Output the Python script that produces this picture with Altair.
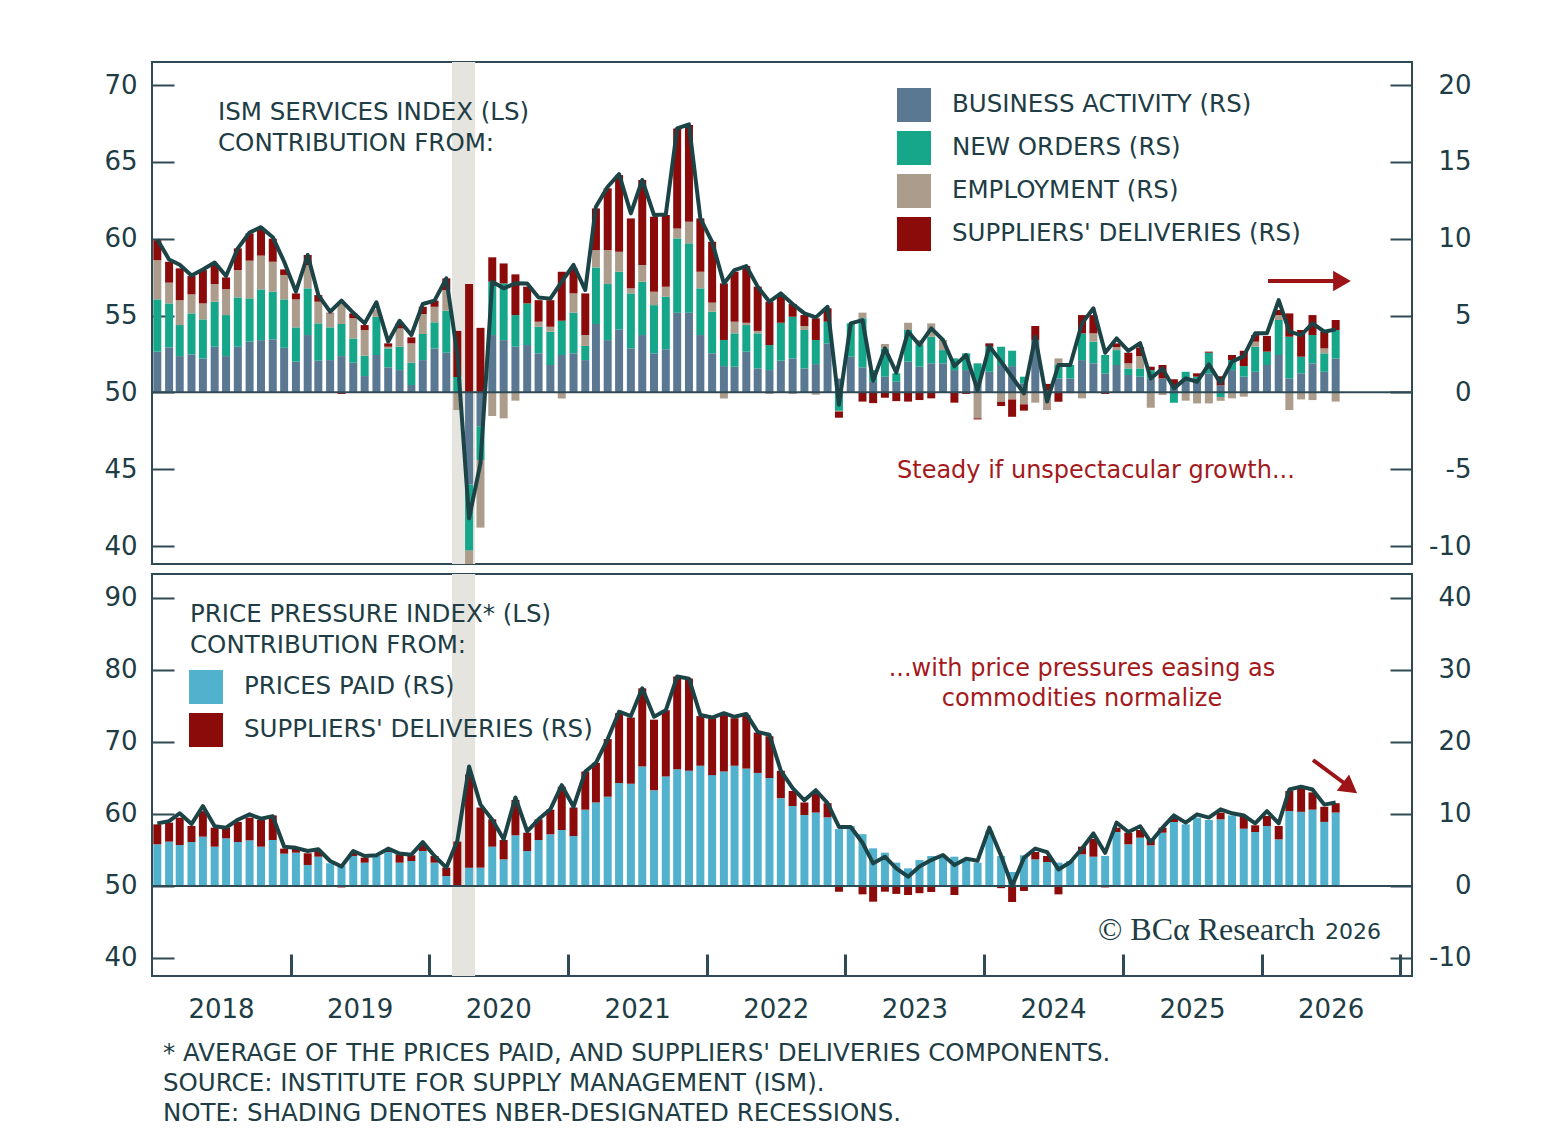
import altair as alt
import pandas as pd

# ---------------- data ----------------
N_MONTHS = 103  # Jan 2018 .. Jul 2026
FIRST_MONTH = "2018-01-01"

business_activity = [
    2.65, 2.93, 2.36, 2.47, 2.2, 2.97, 2.36, 2.97, 3.3, 3.4,
    3.45, 2.9, 2.0, 3.73, 2.06, 2.1, 2.36, 1.93, 1.06, 2.43,
    1.63, 1.45, 0.48, 2.1, 2.86, 2.58, 0.0, -6.0, -2.2, 3.73,
    3.4, 2.97, 3.08, 2.54, 1.78, 2.43, 2.54, 2.1, 4.45, 3.4,
    4.1, 2.86, 3.73, 2.54, 2.8, 5.18, 5.18, 3.73, 2.54, 1.71,
    1.67, 2.65, 1.56, 1.45, 2.06, 2.21, 1.56, 1.84, 3.19, 0.9,
    2.32, 1.63, 0.69, 1.02, 0.69, 2.0, 1.67, 1.89, 1.89, 1.45,
    1.45, 0.8, 1.34, 1.78, 1.71, 0.59, 3.4, 0.1, 0.91, 0.91,
    2.1, 1.89, 1.24, 1.78, 1.13, 1.02, 0.91, 0.91, 0.48, 0.91,
    0.69, 1.24, 0.45, 1.45, 1.02, 1.34, 1.78, 2.43, 0.91, 1.24,
    1.89, 1.34, 2.21]
new_orders = [
    3.4, 2.86, 2.02, 2.67, 2.55, 2.93, 2.67, 3.21, 2.82, 3.3,
    3.1, 3.15, 2.23, 3.04, 2.43, 2.13, 2.09, 1.58, 1.33, 2.49,
    1.23, 1.52, 1.45, 1.7, 1.7, 2.73, 1.0, -4.3, -2.2, 3.47,
    3.69, 2.06, 2.71, 1.73, 2.17, 2.23, 2.64, 0.92, 3.68, 3.65,
    3.75, 3.58, 3.47, 3.14, 3.43, 4.84, 4.52, 3.04, 2.71, 1.7,
    2.17, 1.73, 2.28, 1.63, 2.47, 2.71, 2.5, 1.57, 1.41, -1.2,
    2.17, 3.19, 0.76, 1.84, 0.55, 2.06, 1.41, 1.73, 0.86, 0.76,
    1.09, 1.09, 1.63, 1.19, 1.0, 0.43, 0.0, 0.0, 0.87, 0.87,
    1.74, 1.41, 1.19, 0.97, 0.43, 0.54, 0.54, 0.0, -0.67, 0.43,
    0.33, 1.34, -0.3, 0.65, 0.69, 1.63, 0.87, 2.28, 2.71, 1.08,
    1.84, 1.2, 1.85]
employment = [
    2.55, 1.35, 1.62, 1.24, 1.04, 1.15, 1.69, 1.78, 2.45, 2.2,
    1.95, 1.59, 1.82, 1.52, 1.41, 0.91, 1.39, 1.31, 1.67, 0.48,
    0.11, 1.19, 1.26, 1.3, 1.01, 1.35, -1.15, -5.0, -4.4, -1.54,
    -1.69, -0.54, 0.0, 0.33, 0.32, -0.4, 1.26, 0.71, 1.13, 2.21,
    1.3, 0.33, 1.09, 0.87, 0.65, 0.65, 1.4, 1.08, 0.59, -0.4,
    0.76, 0.15, 0.16, -0.1, 0.0, -0.1, 0.26, -0.15, 0.0, -0.05,
    0.0, 0.37, 0.0, 0.29, 0.0, 0.47, 0.33, 0.87, 0.66, 0.0,
    0.0, -1.69, 0.0, -0.61, -0.46, -0.78, -0.67, -1.15, 0.43, 0.0,
    -0.39, 0.54, 0.0, 0.2, 0.33, 0.8, -1.0, -0.17, 0.0, -0.54,
    -0.72, -0.72, -0.25, -0.39, -0.28, 0.33, 0.0, 0.32, -1.15, -0.46,
    -0.5, 0.32, -0.6]
suppliers_services = [
    1.3, 1.36, 2.07, 1.19, 2.17, 1.24, 0.76, 1.41, 1.78, 1.7,
    1.5, 0.36, 0.39, 0.65, 0.43, 0.04, -0.1, 0.32, 0.32, 0.0,
    0.22, 0.33, 0.39, 0.47, 0.4, 0.76, 3.0, 7.05, 4.2, 1.59,
    1.3, 2.65, 1.09, 1.4, 1.73, 3.19, 1.63, 2.71, 2.71, 4.02,
    4.99, 4.55, 5.53, 4.88, 4.66, 6.51, 6.3, 3.47, 3.96, 3.68,
    3.25, 3.69, 2.88, 2.82, 1.8, 0.83, 0.71, 1.41, 0.87, -0.4,
    0.0, -0.6, -0.7, -0.35, -0.57, -0.6, -0.5, -0.39, 0.0, -0.67,
    -0.1, -0.07, 0.22, -0.28, -1.13, -0.41, 0.92, 0.45, -0.61, -0.05,
    1.19, 1.19, -0.1, 0.24, 0.69, 0.57, 0.22, 0.87, 0.37, 0.0,
    0.22, 0.07, 0.6, 0.33, 1.0, 0.43, 1.02, 0.33, 1.52, 1.74,
    1.3, 1.09, 0.65]
ism_services_index = [
    59.95, 58.65, 58.3, 57.6, 58.0, 58.45, 57.57, 59.37, 60.4, 60.75,
    60.1, 58.5, 56.55, 58.94, 56.33, 55.25, 55.97, 55.18, 54.49, 55.86,
    53.3, 54.66, 53.73, 55.75, 55.97, 57.42, 52.5, 41.8, 45.4, 57.2,
    56.77, 57.1, 57.09, 56.18, 56.1, 57.2, 58.29, 56.66, 62.08, 63.38,
    64.2, 61.65, 63.82, 61.54, 61.58, 67.18, 67.44, 61.32, 59.8, 57.09,
    57.96, 58.22, 56.88, 55.9, 56.44, 55.75, 55.14, 54.88, 55.57, 49.2,
    54.49, 54.7, 50.76, 52.86, 51.28, 53.95, 53.08, 54.16, 53.41, 51.71,
    52.43, 50.15, 53.0, 52.0, 51.0, 49.93, 53.62, 49.4, 51.78, 51.78,
    54.49, 55.47, 52.58, 53.51, 52.7, 53.2, 50.9, 51.56, 50.26, 50.91,
    50.69, 51.82, 50.6, 52.0, 52.36, 53.84, 53.84, 56.0, 53.95, 53.73,
    54.49, 53.95, 54.1]

prices_paid = [
    5.79, 6.16, 5.69, 6.11, 6.85, 5.46, 6.62, 6.11, 6.34, 5.46,
    6.39, 4.49, 4.63, 2.92, 4.07, 3.15, 2.78, 4.17, 3.24, 4.17,
    4.72, 3.24, 3.47, 4.86, 3.24, 1.39, 0.1, 2.55, 2.55, 5.46,
    3.7, 7.04, 4.86, 6.39, 7.18, 7.78, 6.94, 10.6, 11.6, 12.4,
    14.3, 14.2, 16.6, 13.3, 15.2, 16.2, 16.0, 16.7, 15.4, 15.9,
    16.7, 16.3, 15.7, 15.0, 12.2, 11.1, 9.86, 10.2, 9.54, 7.9,
    8.33, 7.2, 5.23, 4.63, 3.24, 2.45, 3.6, 4.17, 4.17, 4.07,
    3.6, 3.24, 7.64, 4.17, 1.94, 4.26, 3.7, 3.33, 3.24, 3.47,
    4.4, 4.07, 4.17, 7.5, 5.79, 6.71, 5.65, 7.4, 8.9, 8.56,
    9.49, 9.17, 9.26, 9.8, 7.96, 7.5, 8.33, 6.48, 10.4, 10.3,
    10.6, 8.9, 10.2]
suppliers_prices = [
    2.77, 2.64, 3.8, 2.22, 3.55, 2.64, 1.48, 2.79, 3.15, 3.71,
    3.41, 0.7, 0.56, 1.62, 0.79, 0.0, -0.2, 0.46, 0.7, 0.0,
    0.3, 1.16, 0.79, 0.93, 0.93, 1.16, 6.06, 12.95, 8.35, 3.8,
    2.69, 4.9, 2.54, 2.87, 3.42, 6.0, 3.96, 5.3, 5.5, 8.0,
    9.7, 9.2, 10.85, 9.8, 9.2, 12.9, 12.8, 6.9, 7.9, 7.85,
    6.6, 7.45, 5.6, 5.8, 3.8, 2.1, 1.74, 2.9, 1.96, -0.8,
    0.0, -1.16, -2.18, -0.79, -1.1, -1.25, -1.0, -0.83, 0.0, -1.25,
    0.0, -0.1, 0.0, -0.3, -2.22, -0.69, 1.02, 0.84, -1.16, -0.05,
    1.06, 2.5, -0.2, 0.6, 1.61, 1.07, 0.74, 0.7, 0.73, 0.0,
    0.0, 0.0, 0.94, 0.0, 1.67, 0.93, 1.39, 1.85, 2.8, 3.4,
    2.4, 2.1, 1.3]
price_pressure_index = [
    58.7, 59.0, 60.1, 58.6, 61.1, 58.3, 58.1, 59.2, 59.95, 59.35,
    59.7, 55.46, 55.3, 54.86, 55.1, 53.47, 52.7, 54.86, 54.17, 54.26,
    55.19, 54.5, 54.35, 56.1, 54.17, 52.55, 56.25, 66.6, 61.3, 59.2,
    56.5, 62.3, 57.6, 59.26, 60.65, 64.0, 61.0, 65.9, 67.1, 70.4,
    74.2, 73.6, 77.45, 73.5, 74.4, 79.1, 78.8, 73.75, 73.4, 74.0,
    73.5, 73.9, 71.4, 71.0, 66.0, 63.6, 61.9, 63.3, 61.5, 58.2,
    58.2, 56.0, 53.15, 54.07, 52.45, 51.3, 52.7, 53.6, 54.3, 52.9,
    53.8, 53.5, 58.1, 54.2, 50.0, 53.9, 55.2, 54.7, 52.3, 53.3,
    55.2, 57.3, 54.6, 58.8, 57.5, 58.3, 56.1, 58.1, 59.8, 58.8,
    59.95, 59.5, 60.65, 60.1, 59.8, 58.7, 60.4, 58.7, 63.4, 63.8,
    63.4, 61.3, 61.6]

recession_start = ["2020-03-01"]
recession_end = ["2020-05-01"]

TOP_COMPONENTS = ["BUSINESS ACTIVITY (RS)", "NEW ORDERS (RS)",
                  "EMPLOYMENT (RS)", "SUPPLIERS' DELIVERIES (RS)"]
BOTTOM_COMPONENTS = ["PRICES PAID (RS)", "SUPPLIERS' DELIVERIES (RS)"]
YEAR_TICKS = list(range(2018, 2028))

# ---------------- styling ----------------
FONT = "DejaVu Sans"
TXT = "#203c44"
RED_TXT = "#a3191c"
FRAME = "#2f4a54"
LINE = "#1c4346"
TOP_COLORS = ["#5b7893", "#16a689", "#ab9c8c", "#8b0b0b"]
BOTTOM_COLORS = ["#52b1cd", "#8b0b0b"]
W, H1, H2 = 1260, 502, 402

# ---------------- tables ----------------
dates = (pd.date_range(FIRST_MONTH, periods=N_MONTHS, freq="MS")
         + pd.Timedelta(days=14)).strftime("%Y-%m-%d")

top_rows = []
for k, (name, series) in enumerate(zip(TOP_COMPONENTS, [business_activity, new_orders,
                                                        employment, suppliers_services])):
    for d, v in zip(dates, series):
        top_rows.append({"date": d, "component": name, "k": k, "value": v})
top_df = pd.DataFrame(top_rows)
top_line_df = pd.DataFrame({"date": dates, "index": ism_services_index})

bot_rows = []
for k, (name, series) in enumerate(zip(BOTTOM_COMPONENTS, [prices_paid, suppliers_prices])):
    for d, v in zip(dates, series):
        bot_rows.append({"date": d, "component": name, "k": k, "value": v})
bot_df = pd.DataFrame(bot_rows)
bot_line_df = pd.DataFrame({"date": dates, "index": price_pressure_index})

rec_df = pd.DataFrame({"start": recession_start, "end": recession_end})
ONE = pd.DataFrame({"n": [0]})

x_scale = alt.Scale(domain=[alt.DateTime(year=2018, month=1, date=1),
                            alt.DateTime(year=2027, month=2, date=1)], padding=0)


def side_axis(orient, values):
    common = dict(orient=orient, values=values, offset=-22, tickSize=22, tickWidth=2,
                  tickColor=FRAME, domain=False, grid=False, title=None,
                  labelFontSize=26, labelColor=TXT, labelFont=FONT,
                  labelExpr="toString(datum.value)")
    if orient == "left":
        return alt.Axis(labelPadding=15, **common)
    return alt.Axis(labelPadding=59, labelAlign="right", **common)


def text(t, x, y, size=24.5, color=TXT, align="left", font=FONT):
    return alt.Chart(ONE).mark_text(
        text=t, align=align, baseline="middle", fontSize=size, color=color, font=font
    ).encode(x=alt.value(x), y=alt.value(y))


def arrow(x1, y1, x2, y2, hx, hy, angle):
    shaft = alt.Chart(ONE).mark_rule(color="#9c1417", strokeWidth=4).encode(
        x=alt.value(x1), x2=alt.value(x2), y=alt.value(y1), y2=alt.value(y2))
    head = alt.Chart(ONE).mark_point(shape="triangle-right", filled=True, size=420,
                                     color="#9c1417", opacity=1, angle=angle).encode(
        x=alt.value(hx), y=alt.value(hy))
    return [shaft, head]


def legend(x, y):
    return alt.Legend(orient="none", legendX=x, legendY=y, title=None,
                      symbolType="square", symbolSize=1156, symbolStrokeWidth=0,
                      symbolOpacity=1, labelFontSize=24.5, labelFont=FONT,
                      labelColor=TXT, labelOffset=21, rowPadding=9, labelLimit=0)


def panel(bar_df, line_df, comps, colors, ls_dom, rs_dom, ls_vals, rs_vals, height,
          leg_x, leg_y, x_axis):
    rec = alt.Chart(rec_df).mark_rect(color="#e5e4df").encode(
        x=alt.X("start:T", scale=x_scale, axis=x_axis), x2="end:T",
        y=alt.value(0), y2=alt.value(height))
    rs_scale = alt.Scale(domain=rs_dom, nice=False, zero=False)
    bars = alt.Chart(bar_df).mark_bar(width=8, clip=True).encode(
        x=alt.X("date:T", scale=x_scale, axis=x_axis),
        y=alt.Y("value:Q", stack="zero", scale=rs_scale, axis=side_axis("right", rs_vals)),
        color=alt.Color("component:N", scale=alt.Scale(domain=comps, range=colors),
                        legend=legend(leg_x, leg_y)),
        order=alt.Order("k:Q", sort="ascending"),
    )
    zero = alt.Chart(ONE).mark_rule(color=FRAME, strokeWidth=2).encode(
        y=alt.YDatum(0, scale=rs_scale, axis=None))
    line = alt.Chart(line_df).mark_line(color=LINE, strokeWidth=4, strokeJoin="round",
                                        clip=True).encode(
        x=alt.X("date:T", scale=x_scale, axis=x_axis),
        y=alt.Y("index:Q", scale=alt.Scale(domain=ls_dom, nice=False, zero=False),
                axis=side_axis("left", ls_vals)),
    )
    return [rec, bars, zero, line]


year_axis = alt.Axis(orient="bottom", values=[alt.DateTime(year=y, month=1, date=1) for y in YEAR_TICKS],
                     labelExpr="year(datum.value) > 2026 ? '' : timeFormat(datum.value, '%Y')",
                     offset=-22, tickSize=22, tickWidth=3,
                     tickColor={"condition": {"test": "year(datum.value) < 2019",
                                              "value": "rgba(0,0,0,0)"},
                                "value": FRAME},
                     domain=False, grid=False, title=None, labelOffset=69, labelPadding=20,
                     labelFontSize=26, labelColor=TXT, labelFont=FONT, labelFlush=False,
                     labelOverlap=False)

VIEW = alt.ViewBackground(stroke=FRAME, strokeWidth=2)

top_layers = panel(top_df, top_line_df, TOP_COMPONENTS, TOP_COLORS,
                   [38.83, 71.5], [-11.17, 21.5], [40, 45, 50, 55, 60, 65, 70],
                   [-10, -5, 0, 5, 10, 15, 20], H1, 745, 26, None)
top_layers += [
    text("ISM SERVICES INDEX (LS)", 66, 51),
    text("CONTRIBUTION FROM:", 66, 82),
    text("Steady if unspectacular growth...", 745, 409, size=24, color=RED_TXT),
]
top_layers += arrow(1116, 219, 1182, 219, 1190, 219, 0)
top = (alt.layer(*top_layers).resolve_scale(y="independent")
       .properties(width=W, height=H1, view=VIEW))

bot_layers = panel(bot_df, bot_line_df, BOTTOM_COMPONENTS, BOTTOM_COLORS,
                   [37.5, 93.33], [-12.5, 43.33], [40, 50, 60, 70, 80, 90],
                   [-10, 0, 10, 20, 30, 40], H2, 37, 96, year_axis)
bot_layers += [
    text("PRICE PRESSURE INDEX* (LS)", 38, 41),
    text("CONTRIBUTION FROM:", 38, 72),
    text("...with price pressures easing as", 930, 95, size=24, color=RED_TXT, align="center"),
    text("commodities normalize", 930, 125, size=24, color=RED_TXT, align="center"),
    text("© BCα Research", 1163, 356, size=32, align="right", font="Liberation Serif"),
    text("2026", 1173, 358, size=22),
    text("* AVERAGE OF THE PRICES PAID, AND SUPPLIERS' DELIVERIES COMPONENTS.", 11, 480, size=24.5),
    text("SOURCE: INSTITUTE FOR SUPPLY MANAGEMENT (ISM).", 11, 510, size=24.5),
    text("NOTE: SHADING DENOTES NBER-DESIGNATED RECESSIONS.", 11, 540, size=24.5),
]
bot_layers += arrow(1161, 186, 1192, 209, 1198, 214, 37)
bottom = (alt.layer(*bot_layers).resolve_scale(y="independent")
          .properties(width=W, height=H2, view=VIEW))

chart = (
    alt.vconcat(top, bottom, spacing=8)
    .resolve_scale(color="independent")
    .properties(padding={"left": 94, "top": 53, "right": 10, "bottom": 10})
    .configure_view(stroke=FRAME, strokeWidth=2)
    .configure(background="white")
)

chart.save("out.html", embed_options={"renderer": "svg", "actions": False})
